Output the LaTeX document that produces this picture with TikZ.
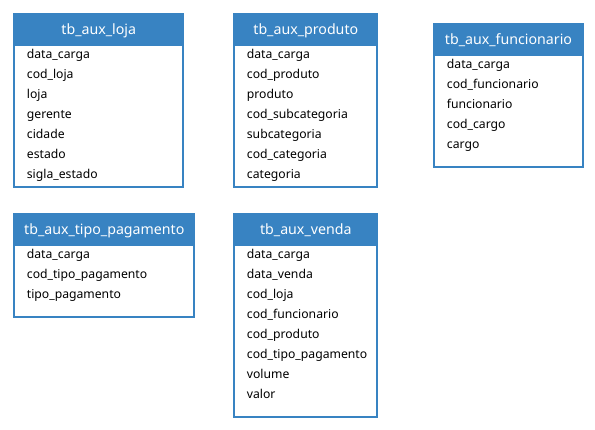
\documentclass[tikz,border=0pt]{standalone}
\usepackage{fontspec}
\setmainfont{Noto Sans}
\definecolor{tblue}{RGB}{56, 131, 194}
\usetikzlibrary{positioning, calc}

\begin{document}
\begin{tikzpicture}[x=1pt, y=-1pt,
  tbhead/.style={draw=tblue, fill=tblue, line width=2pt, text=white, font=\fontsize{14.2}{16}\selectfont,
    inner sep=0pt, minimum height=31pt, anchor=north west, text height=10pt, text depth=1pt},
  tbbody/.style={draw=tblue, line width=2pt, fill=white, inner sep=0pt, anchor=north west},
  campo/.style={anchor=base west, inner sep=0pt, font=\fontsize{12.2}{14}\selectfont}
]
  \useasboundingbox (0,0) rectangle (595,430);

  % tb_aux_loja
  \node[tbbody, minimum width=169pt, minimum height=141.4pt] (loja-corpo) at (13.3,44.3) {};
  \node[tbhead, minimum width=169pt] (loja) at (13.3,13.3) {tb\_aux\_loja};
  \foreach \f [count=\i] in {data\_carga, cod\_loja, loja, gerente, cidade, estado, sigla\_estado}
    \node[campo] (loja-\i) at ($(loja.south west)+(13.4,12.4+20*\i-20)$) {\f};

  % tb_aux_produto
  \node[tbbody, minimum width=143pt, minimum height=141.4pt] (produto-corpo) at (233.3,44.3) {};
  \node[tbhead, minimum width=143pt] (produto) at (233.3,13.3) {tb\_aux\_produto};
  \foreach \f [count=\i] in {data\_carga, cod\_produto, produto, cod\_subcategoria, subcategoria, cod\_categoria, categoria}
    \node[campo] (produto-\i) at ($(produto.south west)+(13.4,12.4+20*\i-20)$) {\f};

  % tb_aux_funcionario
  \node[tbbody, minimum width=148.4pt, minimum height=111.4pt] (funcionario-corpo) at (433.3,54.3) {};
  \node[tbhead, minimum width=148.4pt] (funcionario) at (433.3,23.3) {tb\_aux\_funcionario};
  \foreach \f [count=\i] in {data\_carga, cod\_funcionario, funcionario, cod\_cargo, cargo}
    \node[campo] (funcionario-\i) at ($(funcionario.south west)+(13.4,12.4+20*\i-20)$) {\f};

  % tb_aux_tipo_pagamento
  \node[tbbody, minimum width=180pt, minimum height=71.7pt] (pagamento-corpo) at (13.3,244.3) {};
  \node[tbhead, minimum width=180pt] (pagamento) at (13.3,213.3) {tb\_aux\_tipo\_pagamento};
  \foreach \f [count=\i] in {data\_carga, cod\_tipo\_pagamento, tipo\_pagamento}
    \node[campo] (pagamento-\i) at ($(pagamento.south west)+(13.4,12.4+20*\i-20)$) {\f};

  % tb_aux_venda
  \node[tbbody, minimum width=143pt, minimum height=171.4pt] (venda-corpo) at (233.3,244.3) {};
  \node[tbhead, minimum width=143pt] (venda) at (233.3,213.3) {tb\_aux\_venda};
  \foreach \f [count=\i] in {data\_carga, data\_venda, cod\_loja, cod\_funcionario, cod\_produto, cod\_tipo\_pagamento, volume, valor}
    \node[campo] (venda-\i) at ($(venda.south west)+(13.4,12.4+20*\i-20)$) {\f};
\end{tikzpicture}
\end{document}
